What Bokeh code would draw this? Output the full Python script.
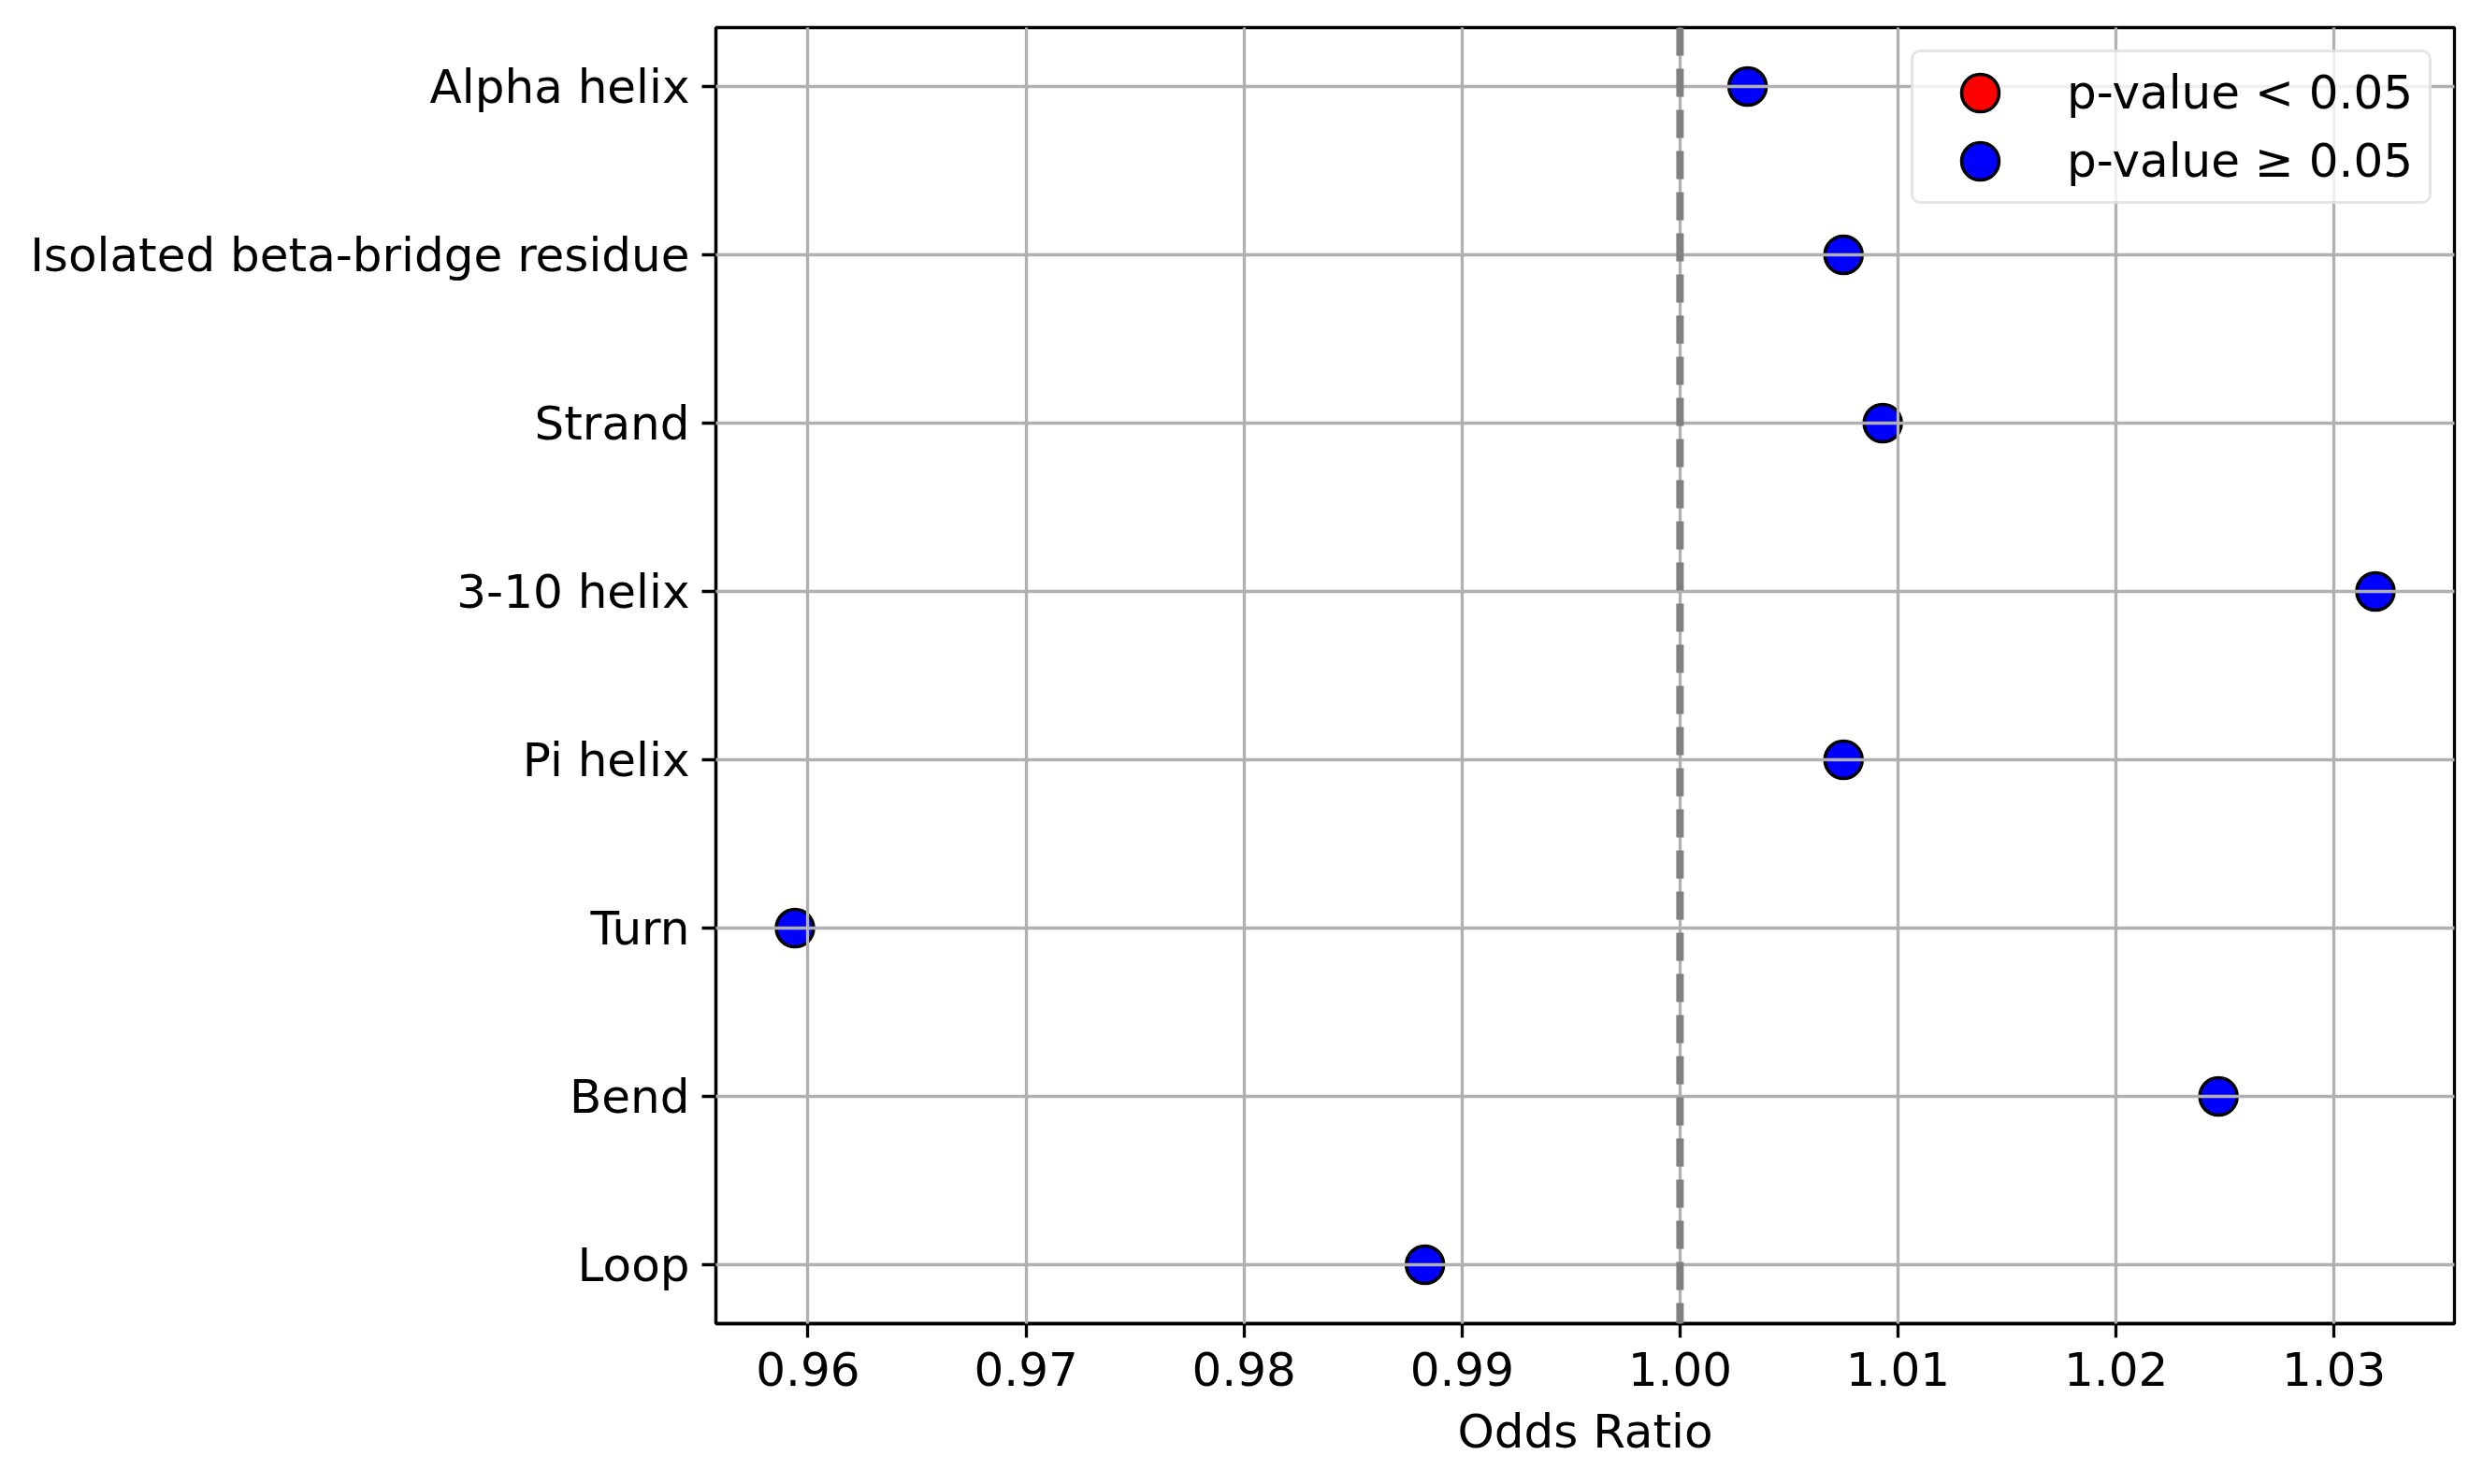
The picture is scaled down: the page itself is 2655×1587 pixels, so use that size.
from bokeh.plotting import figure
from bokeh.models import (ColumnDataSource, Range1d, FixedTicker, NumeralTickFormatter,
                          Span, Legend, LegendItem)
from bokeh.embed import file_html
from bokeh.resources import INLINE

# ---- data (top row first) ----
categories = ["Alpha helix", "Isolated beta-bridge residue", "Strand", "3-10 helix",
              "Pi helix", "Turn", "Bend", "Loop"]
odds_ratio = [1.0031, 1.0075, 1.0093, 1.0319, 1.0075, 0.9594, 1.0247, 0.9883]
significant = [False, False, False, False, False, False, False, False]
x_ticks = [0.96, 0.97, 0.98, 0.99, 1.00, 1.01, 1.02, 1.03]
reference_or = 1.0
legend_labels = ["p-value < 0.05", "p-value \u2265 0.05"]

n = len(categories)
ypos = [n - 1 - i for i in range(n)]

sig_x = [v for v, s in zip(odds_ratio, significant) if s]
sig_y = [y for y, s in zip(ypos, significant) if s]
ns_x = [v for v, s in zip(odds_ratio, significant) if not s]
ns_y = [y for y, s in zip(ypos, significant) if not s]
# a renderer needs at least one row for its legend swatch; NaN rows are not drawn
if not sig_x:
    sig_x, sig_y = [float("nan")], [float("nan")]
if not ns_x:
    ns_x, ns_y = [float("nan")], [float("nan")]
sig_src = ColumnDataSource(dict(x=sig_x, y=sig_y))
ns_src = ColumnDataSource(dict(x=ns_x, y=ns_y))

xmin, xmax = min(odds_ratio), max(odds_ratio)
xpad = 0.05 * (xmax - xmin)
ypad = 0.05 * (n - 1)

FONT = "DejaVu Sans"
FS = "50px"

p = figure(output_backend="svg", toolbar_location=None,
           frame_width=1859, frame_height=1386,
           x_range=Range1d(xmin - xpad, xmax + xpad),
           y_range=Range1d(-ypad, n - 1 + ypad),
           min_border_left=765, min_border_right=15,
           min_border_top=29, min_border_bottom=156)
p.background_fill_color = "white"
p.border_fill_color = "white"
p.outline_line_color = "black"
p.outline_line_width = 3.3

# grid above markers (as in the reference)
for g in (p.xgrid, p.ygrid):
    g.grid_line_color = "#b0b0b0"
    g.grid_line_width = 3.3
    g.level = "guide"
p.xgrid.ticker = FixedTicker(ticks=x_ticks)
p.ygrid.ticker = FixedTicker(ticks=ypos)

MS = 40
r_sig = p.ellipse("x", "y", source=sig_src, width=MS, height=MS,
                  width_units="screen", height_units="screen",
                  fill_color="red", line_color="black", line_width=3.5)
r_ns = p.ellipse("x", "y", source=ns_src, width=MS, height=MS,
                 width_units="screen", height_units="screen",
                 fill_color="blue", line_color="black", line_width=3.5)

span = Span(location=reference_or, dimension="height", line_color="#808080",
            line_width=8, line_dash="30 14")
p.add_layout(span)

# axes
p.xaxis.ticker = FixedTicker(ticks=x_ticks)
p.xaxis.formatter = NumeralTickFormatter(format="0.00")
p.yaxis.ticker = FixedTicker(ticks=ypos)
p.yaxis.major_label_overrides = {y: c for y, c in zip(ypos, categories)}
p.xaxis.axis_label = "Odds Ratio"
for ax in (p.xaxis, p.yaxis):
    ax.axis_line_color = "black"
    ax.axis_line_width = 3.3
    ax.major_tick_line_color = "black"
    ax.major_tick_line_width = 3.3
    ax.major_tick_out = 15
    ax.major_tick_in = 0
    ax.minor_tick_line_color = None
    ax.major_label_text_font = FONT
    ax.major_label_text_font_size = FS
    ax.major_label_text_color = "black"
    ax.axis_label_text_font = FONT
    ax.axis_label_text_font_size = FS
    ax.axis_label_text_font_style = "normal"
    ax.axis_label_text_color = "black"
p.xaxis.major_label_standoff = 15
p.xaxis.axis_label_standoff = 17
p.yaxis.major_label_standoff = 13

legend = Legend(items=[LegendItem(label=legend_labels[0], renderers=[r_sig]),
                       LegendItem(label=legend_labels[1], renderers=[r_ns])],
                location="top_right")
legend.margin = 24
legend.padding = 14
legend.spacing = 15
legend.glyph_width = 114
legend.glyph_height = 50
legend.label_standoff = 36
legend.label_width = 373
legend.label_height = 50
legend.label_text_font = FONT
legend.label_text_font_size = FS
legend.label_text_color = "black"
legend.border_line_color = "#cccccc"
legend.border_line_width = 3
legend.background_fill_color = "white"
legend.background_fill_alpha = 0.8
if "border_radius" in legend.properties():
    try:
        legend.border_radius = 10
    except Exception:
        pass
p.add_layout(legend)

open("out.html", "w").write(file_html(p, INLINE))
